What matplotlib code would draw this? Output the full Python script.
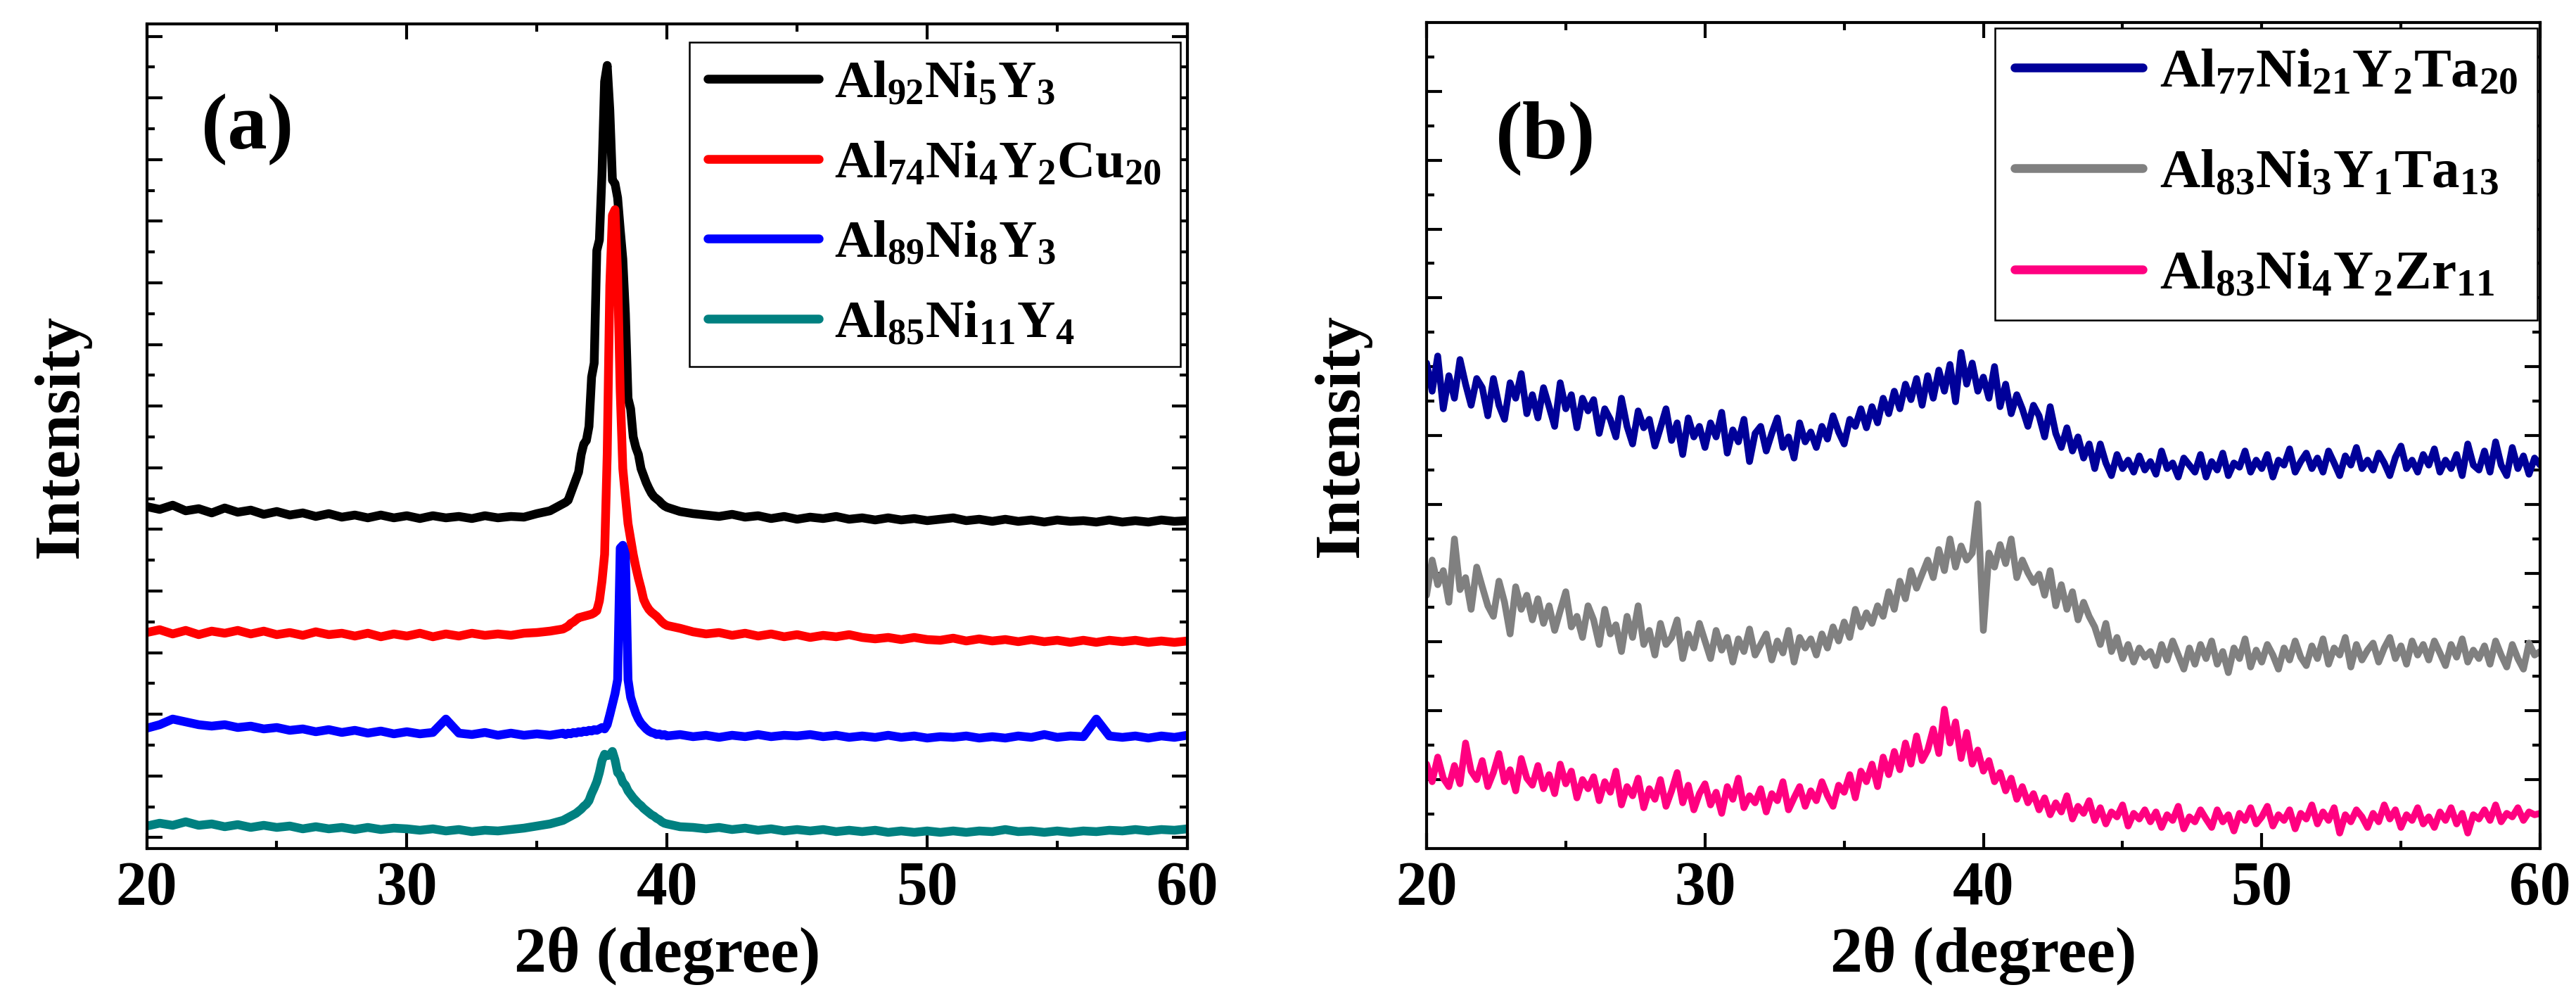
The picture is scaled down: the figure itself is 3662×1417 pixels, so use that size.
#!/usr/bin/env python3
"""XRD patterns of the Al-Ni-Y based ribbons, two panels side by side."""
import numpy as np
import matplotlib
matplotlib.use("Agg")
import matplotlib.pyplot as plt

plt.rcParams.update({
    "font.family": "Liberation Serif", "font.weight": "bold",
    "axes.labelweight": "bold",
    "mathtext.fontset": "custom",
    "mathtext.rm": "Liberation Serif:bold",
    "mathtext.bf": "Liberation Serif:bold",
    "mathtext.it": "Liberation Serif:bold",
    "axes.linewidth": 1.0,
})

# ---- panel (a): crystalline / partly crystalline ribbons ------------------
# sampling: 0.5 deg off the peak, 0.1 deg across 36-40 deg
TT_A = np.concatenate([np.linspace(20, 36, 33), np.linspace(36.1, 40.0, 40),
                       np.linspace(40.5, 60, 40)])

AL92 = ([486, 482, 488, 480, 483, 477, 484, 478, 481, 475,
         479, 474, 477, 472, 476, 471, 474, 470, 474, 470,
         473, 469, 473, 470, 472, 469, 473, 470, 472, 471,
         476, 480, 490]
        + [492, 495, 505, 515, 525, 535, 560, 575, 580, 600,
           670, 690, 850, 865, 960, 1090, 1113, 1050, 950, 945,
           925, 880, 838, 760, 640, 625, 585, 570, 560, 540,
           530, 520, 512, 505, 500, 497, 494, 490, 487, 485]
        + [479, 476, 474, 472, 475, 471, 473, 469, 472, 468,
           471, 469, 472, 468, 470, 467, 470, 467, 469, 466,
           468, 470, 466, 468, 465, 468, 465, 467, 464, 467,
           465, 466, 464, 467, 464, 466, 464, 467, 465, 466])

AL74 = ([307, 311, 305, 310, 304, 309, 306, 310, 305, 309,
         304, 307, 303, 308, 304, 306, 302, 306, 301, 305,
         302, 306, 301, 305, 302, 306, 303, 305, 303, 306,
         307, 309, 312]
        + [314, 316, 320, 322, 325, 328, 329, 330, 331, 332,
           333, 335, 338, 352, 380, 418, 560, 800, 900, 908,
           816, 650, 540, 500, 462, 440, 418, 400, 384, 370,
           354, 346, 340, 336, 333, 330, 326, 322, 319, 317]
        + [313, 308, 305, 307, 303, 306, 302, 305, 301, 304,
           300, 303, 301, 304, 300, 298, 300, 297, 300, 297,
           296, 299, 295, 298, 295, 297, 294, 297, 294, 296,
           293, 296, 293, 296, 294, 296, 293, 295, 293, 295])

AL89 = ([171, 176, 184, 180, 176, 174, 176, 172, 174, 170,
         172, 168, 170, 166, 169, 165, 168, 164, 167, 163,
         166, 163, 165, 184, 164, 162, 165, 161, 164, 161,
         163, 161, 164]
        + [162, 164, 163, 165, 164, 166, 165, 167, 166, 168,
           167, 169, 168, 170, 172, 170, 176, 190, 205, 220,
           240, 427, 431, 418, 240, 215, 203, 192, 184, 178,
           174, 170, 167, 165, 164, 162, 163, 161, 162, 160]
        + [162, 159, 161, 158, 161, 159, 162, 159, 161, 160,
           162, 159, 161, 158, 160, 158, 161, 158, 160, 157,
           159, 158, 160, 157, 159, 157, 160, 158, 162, 158,
           160, 159, 184, 160, 158, 160, 157, 160, 158, 161])

AL85 = ([32, 36, 33, 38, 33, 35, 31, 34, 30, 33,
         30, 32, 28, 31, 28, 30, 27, 30, 27, 29,
         28, 26, 28, 25, 27, 24, 26, 25, 27, 29,
         32, 35, 40]
        + [42, 44, 46, 48, 50, 53, 56, 60, 63, 68,
           78, 86, 95, 108, 125, 134, 132, 133, 138, 126,
           108, 104, 94, 90, 82, 77, 72, 68, 64, 61,
           57, 54, 51, 48, 46, 43, 41, 38, 36, 35]
        + [31, 30, 28, 30, 27, 29, 26, 28, 25, 27,
           25, 27, 24, 26, 24, 26, 23, 25, 23, 25,
           23, 25, 23, 25, 24, 27, 24, 25, 23, 25,
           23, 25, 24, 26, 25, 27, 25, 27, 26, 28])

LABELS_A = [r"$\mathrm{Al_{92}Ni_{5}Y_{3}}$",
            r"$\mathrm{Al_{74}Ni_{4}Y_{2}Cu_{20}}$",
            r"$\mathrm{Al_{89}Ni_{8}Y_{3}}$",
            r"$\mathrm{Al_{85}Ni_{11}Y_{4}}$"]
COLORS_A = ["#000000", "#ff0000", "#0000ff", "#008080"]

# ---- panel (b): amorphous ribbons, one point every 0.2 deg ----------------
TT_B = np.linspace(20, 60, 201)

AL77 = [690, 650, 700, 625, 672, 640, 695, 660, 630, 668,
        655, 615, 668, 630, 610, 662, 640, 675, 618, 645,
        612, 655, 628, 600, 662, 625, 645, 598, 640, 622,
        638, 590, 625, 610, 585, 640, 600, 575, 622, 598,
        610, 572, 598, 625, 580, 605, 560, 612, 585, 600,
        570, 605, 585, 620, 562, 595, 578, 610, 550, 590,
        600, 565, 590, 612, 570, 585, 555, 605, 578, 592,
        570, 600, 582, 615, 592, 575, 610, 600, 625, 598,
        628, 605, 640, 618, 650, 625, 660, 638, 668, 630,
        672, 640, 680, 650, 688, 635, 705, 660, 690, 650,
        670, 640, 685, 628, 660, 618, 645, 625, 600, 630,
        615, 585, 628, 590, 570, 598, 565, 585, 555, 575,
        540, 575, 548, 530, 560, 540, 552, 535, 558, 538,
        550, 532, 565, 540, 548, 528, 555, 545, 535, 560,
        528, 550, 538, 562, 530, 548, 542, 565, 535, 552,
        540, 560, 528, 552, 545, 568, 535, 550, 562, 540,
        555, 535, 565, 548, 530, 558, 545, 570, 540, 552,
        538, 562, 548, 530, 556, 572, 540, 552, 535, 560,
        545, 568, 535, 552, 540, 560, 530, 575, 545, 538,
        565, 535, 578, 545, 530, 570, 540, 558, 532, 555,
        545]

AL83_TA = [360, 410, 375, 395, 350, 440, 368, 385, 340, 400,
           372, 345, 330, 380, 350, 305, 372, 340, 360, 325,
           355, 320, 345, 310, 338, 365, 315, 330, 300, 345,
           325, 290, 340, 305, 318, 280, 330, 300, 345, 290,
           310, 275, 320, 290, 300, 325, 270, 305, 285, 320,
           295, 270, 310, 282, 300, 265, 298, 280, 312, 275,
           290, 305, 268, 295, 278, 310, 265, 300, 285, 298,
           275, 305, 285, 315, 295, 322, 300, 340, 315, 335,
           320, 345, 330, 365, 340, 380, 355, 395, 370, 390,
           410, 385, 425, 395, 440, 400, 430, 410, 420, 490,
           310, 420, 400, 432, 405, 440, 385, 410, 392, 378,
           390, 360, 395, 345, 375, 340, 365, 325, 350, 330,
           315, 290, 320, 280, 300, 270, 290, 265, 285, 272,
           280, 260, 290, 268, 295, 275, 255, 285, 262, 290,
           270, 295, 262, 280, 250, 285, 270, 298, 258, 282,
           265, 290, 275, 255, 285, 268, 295, 272, 260, 288,
           270, 298, 262, 285, 275, 300, 258, 290, 268, 282,
           292, 265, 285, 300, 270, 288, 262, 295, 275, 290,
           268, 295, 278, 260, 290, 272, 298, 265, 282, 270,
           288, 262, 295, 275, 258, 290, 270, 255, 292, 275,
           280]

AL83_ZR = [120, 95, 130, 100, 88, 118, 92, 150, 110, 98,
           125, 88, 108, 135, 95, 112, 82, 128, 100, 90,
           118, 85, 105, 78, 120, 92, 110, 72, 98, 85,
           102, 68, 95, 80, 110, 62, 88, 75, 100, 58,
           85, 70, 98, 60, 82, 108, 65, 90, 55, 78,
           92, 62, 80, 50, 88, 70, 100, 58, 75, 65,
           85, 52, 78, 68, 95, 55, 72, 88, 60, 82,
           68, 95, 75, 60, 90, 80, 105, 72, 110, 95,
           120, 88, 130, 105, 138, 112, 150, 120, 160, 125,
           140, 170, 135, 198, 150, 180, 128, 165, 120, 140,
           110, 125, 95, 108, 82, 100, 70, 88, 65, 78,
           55, 72, 48, 65, 52, 75, 42, 60, 50, 68,
           40, 58, 35, 52, 45, 62, 32, 50, 42, 55,
           38, 52, 30, 48, 40, 60, 28, 45, 38, 55,
           42, 30, 55, 38, 48, 25, 50, 40, 58, 35,
           45, 60, 32, 48, 40, 55, 28, 50, 42, 62,
           35, 52, 40, 58, 22, 48, 38, 55, 45, 30,
           50, 38, 62, 42, 55, 30, 48, 40, 58, 35,
           45, 30, 52, 40, 58, 35, 50, 22, 48, 42,
           55, 40, 62, 38, 50, 45, 58, 40, 52, 48,
           50]

LABELS_B = [r"$\mathrm{Al_{77}Ni_{21}Y_{2}Ta_{20}}$",
            r"$\mathrm{Al_{83}Ni_{3}Y_{1}Ta_{13}}$",
            r"$\mathrm{Al_{83}Ni_{4}Y_{2}Zr_{11}}$"]
COLORS_B = ["#000099", "#808080", "#ff0080"]


def style(ax, ylim, y_major, y_minor):
    ax.set_xlim(20, 60)
    ax.set_ylim(*ylim)
    ax.set_xticks([20, 30, 40, 50, 60])
    ax.set_xticks([25, 35, 45, 55], minor=True)
    ax.set_yticks(y_major)
    ax.set_yticks(y_minor, minor=True)
    ax.tick_params(which="both", direction="in", top=True, right=True,
                   width=1.0, labelsize=21, pad=4, labelleft=False)
    ax.tick_params(which="major", length=5.3)
    ax.tick_params(which="minor", length=2.6)
    # the source figure clips the bottom of this label; keep it inside here
    ax.set_xlabel("2θ (degree)", fontsize=22, labelpad=3)
    ax.set_ylabel("Intensity", fontsize=22, labelpad=19)


def legend(ax, anchor, size, spacing, hlen):
    leg = ax.legend(loc="upper right", bbox_to_anchor=anchor, fontsize=size,
                    fancybox=False, edgecolor="black", framealpha=1,
                    handlelength=hlen, handletextpad=0.3, borderpad=0.35,
                    labelspacing=spacing, borderaxespad=0)
    leg.get_frame().set_linewidth(0.6)
    for h in leg.get_lines():
        h.set_linewidth(3.0)


def main():
    fig = plt.figure(figsize=(3662 / 300, 1417 / 300), dpi=300)
    ax_a = fig.add_axes([0.05694, 0.14891, 0.40401, 0.82710])
    ax_b = fig.add_axes([0.55380, 0.14891, 0.43228, 0.82851])

    for y, lab, c in zip([AL92, AL74, AL89, AL85], LABELS_A, COLORS_A):
        ax_a.plot(TT_A, y, color=c, lw=3.0, label=lab,
                  solid_joinstyle="round", solid_capstyle="round")
    style(ax_a, (0, 1172), np.arange(1154.3, 0, -87.6),
          np.arange(1110.5, 0, -87.6))
    legend(ax_a, (0.993, 0.978), 18, 0.6, 2.1)
    ax_a.text(0.097, 0.873, "(a)", transform=ax_a.transAxes, fontsize=27,
              fontweight="bold", ha="center", va="center")

    for y, lab, c in zip([AL77, AL83_TA, AL83_ZR], LABELS_B, COLORS_B):
        ax_b.plot(TT_B, y, color=c, lw=2.3, label=lab,
                  solid_joinstyle="round", solid_capstyle="round")
    style(ax_b, (0, 1174), np.arange(1076, 1, -97.8),
          np.arange(1125, 0, -97.8))
    legend(ax_b, (0.9975, 0.993), 19, 0.9, 2.3)
    ax_b.text(0.107, 0.860, "(b)", transform=ax_b.transAxes, fontsize=28,
              fontweight="bold", ha="center", va="center")

    fig.savefig("out.png", dpi=300)


if __name__ == "__main__":
    main()
